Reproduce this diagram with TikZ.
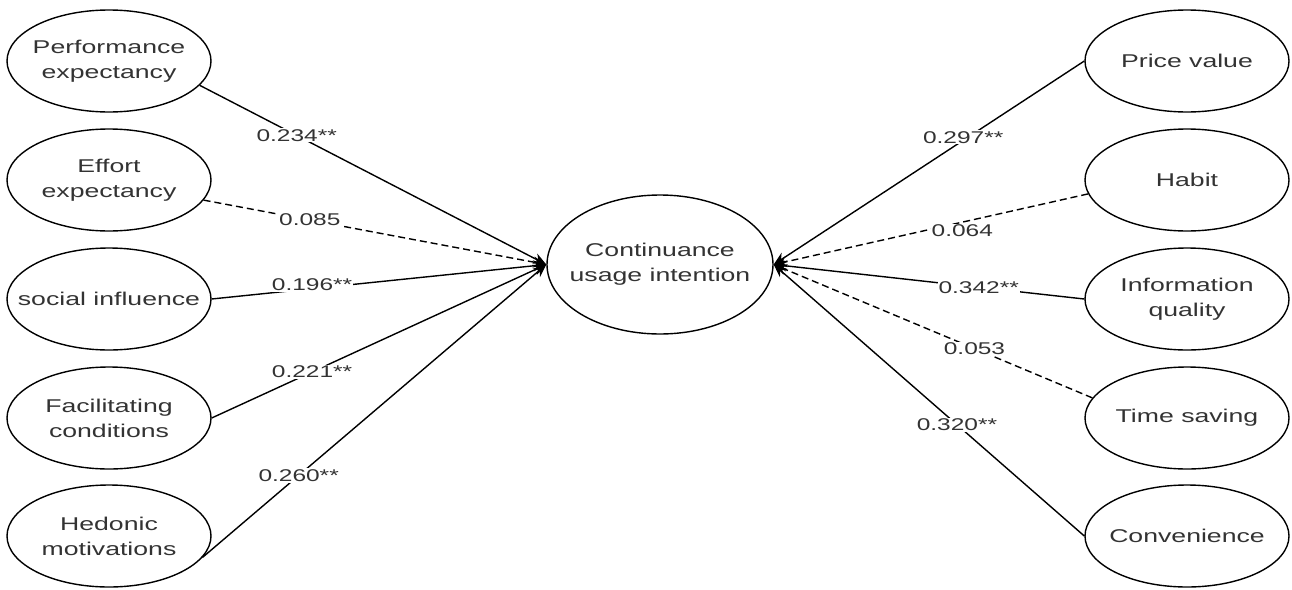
\documentclass[tikz,border=0pt]{standalone}
\usepackage{fontspec}
\newfontfamily\diagfont[FakeStretch=1.44]{Liberation Sans}
\usetikzlibrary{arrows.meta}
\usetikzlibrary{shapes.geometric}
\tikzset{oval/.style = {draw, ellipse, line width = 1.4pt, minimum width = 204pt, minimum height = 102pt, inner xsep = -30pt, align = center, text = black!80, font = \diagfont\fontsize{18.5}{25}\selectfont}}
\tikzset{coef/.style = {fill = white, inner sep = 1pt, text = black!80, font = \diagfont\fontsize{17}{20}\selectfont}}
\tikzset{sig/.style = {line width = 1.4pt, -{Stealth[length = 13pt, width = 11pt]}}}
\tikzset{nsig/.style = {sig, dash pattern = on 7pt off 4pt}}

\begin{document}
\begin{tikzpicture}[x = 1pt, y = -1pt]
    \useasboundingbox (0, 0) rectangle (1292, 589);

    \node[oval, minimum width = 226pt, minimum height = 139pt] (ci) at (660, 264.5) {Continuance\\usage intention};

    \node[oval] (pe) at (109, 61) {Performance\\expectancy};
    \node[oval] (ee) at (109, 180) {Effort\\expectancy};
    \node[oval] (si) at (109, 299) {social influence};
    \node[oval] (fc) at (109, 418) {Facilitating\\conditions};
    \node[oval] (hm) at (109, 536) {Hedonic\\motivations};

    \node[oval] (pv) at (1187, 61) {Price value};
    \node[oval] (hb) at (1187, 180) {Habit};
    \node[oval] (iq) at (1187, 299) {Information\\quality};
    \node[oval] (ts) at (1187, 418) {Time saving};
    \node[oval] (cv) at (1187, 536) {Convenience};

    \draw[sig] (pe.-15) -- node[coef, pos = 0.28] {0.234**} (ci.west);
    \draw[nsig] (ee.-12) -- node[coef, pos = 0.31] {0.085} (ci.west);
    \draw[sig] (si.east) -- node[coef, pos = 0.3, yshift = 4pt] {0.196**} (ci.west);
    \draw[sig] (fc.east) -- node[coef, pos = 0.3] {0.221**} (ci.west);
    \draw[sig] (hm.-13) -- node[coef, pos = 0.28] {0.260**} (ci.west);

    \draw[sig] (pv.west) -- node[coef, pos = 0.39, yshift = 3pt] {0.297**} (ci.east);
    \draw[nsig] (hb.188) -- node[coef, pos = 0.4, yshift = -9pt] {0.064} (ci.east);
    \draw[sig] (iq.west) -- node[coef, pos = 0.34] {0.342**} (ci.east);
    \draw[nsig] (ts.168) -- node[coef, pos = 0.37] {0.053} (ci.east);
    \draw[sig] (cv.west) -- node[coef, pos = 0.41] {0.320**} (ci.east);
  \end{tikzpicture}
\end{document}
